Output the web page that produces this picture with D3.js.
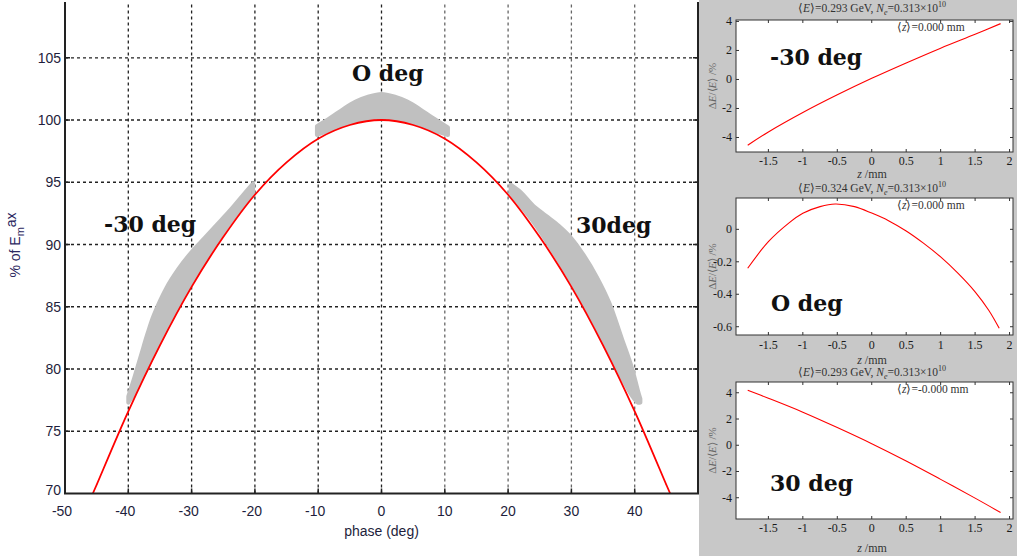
<!DOCTYPE html>
<meta charset="utf-8">
<script src="https://d3js.org/d3.v7.min.js"></script>
<style>
  body { margin: 0; background: #fff; }
  text { font-family: "Liberation Sans", Arial, sans-serif; }
  .serif { font-family: "Liberation Serif", "Times New Roman", serif; }
  .big { font-family: "DejaVu Serif", serif; font-weight: bold; }
</style>
<body>
<div id="chart"></div>
<script>
// main chart data: energy gain vs RF phase
var phaseDeg  = [-45.6, -45, -40, -35, -30, -25, -20, -15, -10, -5, 0, 5, 10, 15, 20, 25, 30, 35, 40, 45, 45.6];
var energyPct = [70, 70.7, 76.6, 81.9, 86.6, 90.6, 94.0, 96.6, 98.5, 99.6, 100, 99.6, 98.5, 96.6, 94.0, 90.6, 86.6, 81.9, 76.6, 70.7, 70];

// bunch footprints (grey bands)
var bandM30Phase = [-40, -39, -38, -37, -36, -34, -32, -30, -28, -26, -24, -22, -20.3];
var bandM30Low   = [77.3, 78.1, 79.1, 80.1, 81.2, 83.2, 85.1, 86.9, 88.6, 90.2, 91.7, 93.0, 94.1];
var bandM30High  = [77.8, 79.4, 81.1, 82.8, 84.3, 86.5, 88.1, 89.4, 90.5, 91.6, 92.7, 93.9, 94.9];

var band0Phase = [-10.2, -8, -6, -4, -2, 0, 2, 4, 6, 8, 10.5];
var band0Low   = [98.8, 99.2, 99.6, 99.9, 100.1, 100.2, 100.1, 99.9, 99.6, 99.2, 98.8];
var band0High  = [99.5, 100.2, 100.9, 101.5, 101.9, 102.1, 101.9, 101.5, 100.9, 100.2, 99.4];

var bandP30Phase = [20.4, 22, 24, 26, 28, 30, 32, 34, 36, 38, 39.5, 40.5, 40.9];
var bandP30Low   = [94.1, 93.1, 91.8, 90.3, 88.7, 87.0, 85.2, 83.3, 81.3, 79.3, 77.9, 77.3, 77.3];
var bandP30High  = [94.8, 94.2, 93.1, 92.3, 91.5, 90.5, 89.1, 87.4, 85.3, 82.4, 80.2, 78.3, 77.6];

var xTicks = [-50, -40, -30, -20, -10, 0, 10, 20, 30, 40];
var yTicks = [70, 75, 80, 85, 90, 95, 100, 105];

// side panels: energy spread along the bunch
var zTicks = [-1.5, -1, -0.5, 0, 0.5, 1, 1.5, 2];
var sub1Z  = [-1.8, -1.5, -1, -0.5, 0, 0.5, 1, 1.5, 1.87];
var sub1dE = [-4.53, -3.62, -2.28, -1.06, 0.08, 1.14, 2.16, 3.12, 3.85];
var sub2Z  = [-1.8, -1.5, -1.2, -1, -0.75, -0.53, -0.25, 0, 0.25, 0.5, 0.75, 1, 1.25, 1.5, 1.7, 1.85];
var sub2dE = [-0.24, -0.076, 0.04, 0.099, 0.14, 0.156, 0.14, 0.1, 0.052, -0.01, -0.085, -0.17, -0.27, -0.385, -0.5, -0.61];
var sub3Z  = [-1.8, -1.5, -1, -0.5, 0, 0.5, 1, 1.5, 1.87];
var sub3dE = [4.19, 3.58, 2.52, 1.35, 0.12, -1.2, -2.6, -4.03, -5.13];

var subEnergy = ["0.293", "0.324", "0.293"];
var subZmean  = ["0.000", "0.000", "-0.000"];
var subNames  = ["-30 deg", "O deg", "30 deg"];

var W = 1017, H = 556;
var svg = d3.select("#chart").append("svg")
    .attr("width", W).attr("height", H);

// ---------- main chart ----------
var x = d3.scaleLinear().domain([-50, 50]).range([65, 698]);
var y = d3.scaleLinear().domain([70, 109.4]).range([493.5, 3]);

var main = svg.append("g");

// grid
main.selectAll(".vgrid").data(xTicks.slice(1)).enter().append("line")
    .attr("x1", d => x(d)).attr("x2", d => x(d))
    .attr("y1", y(70)).attr("y2", y(109.4))
    .attr("stroke", d => d > 0 ? "#666" : "#222")
    .attr("stroke-width", 1.3)
    .attr("stroke-dasharray", "3,3");
main.selectAll(".hgrid").data(yTicks.slice(1)).enter().append("line")
    .attr("x1", x(-50)).attr("x2", x(50))
    .attr("y1", d => y(d)).attr("y2", d => y(d))
    .attr("stroke", "#222")
    .attr("stroke-width", 1.3)
    .attr("stroke-dasharray", "3,3");

// bands
var area = d3.area()
    .x(d => x(d[0])).y0(d => y(d[1])).y1(d => y(d[2]))
    .curve(d3.curveCatmullRom);
function band(ph, lo, hi) {
  var pts = ph.map((p, i) => [p, lo[i], hi[i]]);
  main.append("path").datum(pts)
      .attr("d", area)
      .attr("fill", "#c0c0c0")
      .attr("stroke", "#c0c0c0")
      .attr("stroke-width", 4)
      .attr("stroke-linejoin", "round");
}
band(bandM30Phase, bandM30Low, bandM30High);
band(band0Phase, band0Low, band0High);
band(bandP30Phase, bandP30Low, bandP30High);

// red gain curve
var line = d3.line().x((d, i) => x(phaseDeg[i])).y(d => y(d)).curve(d3.curveCatmullRom);
main.append("path").datum(energyPct)
    .attr("d", line)
    .attr("fill", "none")
    .attr("stroke", "#f00")
    .attr("stroke-width", 1.8);

// axes frame
main.append("line").attr("x1", x(-50)).attr("x2", x(-50)).attr("y1", 2).attr("y2", y(70))
    .attr("stroke", "#222").attr("stroke-width", 2);
main.append("line").attr("x1", x(-50) - 1).attr("x2", x(50) + 1).attr("y1", y(70)).attr("y2", y(70))
    .attr("stroke", "#222").attr("stroke-width", 2);
main.append("line").attr("x1", x(50)).attr("x2", x(50)).attr("y1", 2).attr("y2", y(70))
    .attr("stroke", "#222").attr("stroke-width", 2);

// ticks
main.selectAll(".xt").data(xTicks.slice(1)).enter().append("line")
    .attr("x1", d => x(d)).attr("x2", d => x(d))
    .attr("y1", y(70)).attr("y2", y(70) - 5)
    .attr("stroke", "#222").attr("stroke-width", 1.5);
main.selectAll(".yt").data(yTicks.slice(1)).enter().append("line")
    .attr("x1", x(-50)).attr("x2", x(-50) + 5)
    .attr("y1", d => y(d)).attr("y2", d => y(d))
    .attr("stroke", "#222").attr("stroke-width", 1.5);
main.selectAll(".yt2").data(yTicks.slice(1)).enter().append("line")
    .attr("x1", x(50)).attr("x2", x(50) - 5)
    .attr("y1", d => y(d)).attr("y2", d => y(d))
    .attr("stroke", "#222").attr("stroke-width", 1.5);

// tick labels
main.selectAll(".xl").data(xTicks).enter().append("text")
    .attr("x", d => x(d) - (d < 0 ? 3 : 0)).attr("y", 516)
    .attr("text-anchor", "middle")
    .style("font-size", "14px").attr("fill", "#1e1e3c")
    .text(d => d);
main.selectAll(".yl").data(yTicks).enter().append("text")
    .attr("x", 61).attr("y", d => y(d) + (d === 70 ? 1 : 5))
    .attr("text-anchor", "end")
    .style("font-size", "14px").attr("fill", "#1e1e3c")
    .text(d => d);

main.append("text").attr("x", x(0)).attr("y", 536)
    .attr("text-anchor", "middle")
    .style("font-size", "14px").attr("fill", "#1e1e3c")
    .text("phase (deg)");

var yl = main.append("text")
    .attr("transform", "translate(20,245) rotate(-90)")
    .attr("text-anchor", "middle")
    .style("font-size", "14px").attr("fill", "#2c2860");
yl.append("tspan").text("% of E");
yl.append("tspan").attr("dy", 4).style("font-size", "11px").text("m");
yl.append("tspan").attr("dy", -8).style("font-size", "14px").text("ax");

// big labels
main.append("text").attr("class", "big").attr("x", 352).attr("y", 81)
    .style("font-size", "22px").attr("fill", "#111").text("O deg");
main.append("text").attr("class", "big").attr("x", 104).attr("y", 232)
    .style("font-size", "22px").attr("fill", "#111").text("-30 deg");
main.append("text").attr("class", "big").attr("x", 576).attr("y", 233)
    .style("font-size", "22px").attr("fill", "#111").text("30deg");

// ---------- side panels ----------
svg.append("rect").attr("x", 699).attr("y", 0).attr("width", W - 699).attr("height", H)
    .attr("fill", "#c8c8c8");

var panels = [
  {z: sub1Z, e: sub1dE, top: 20, bottom: 152, dom: [-5.0, 4.1], ticks: [-4, -2, 0, 2, 4],
   title: 8, xl: 165, xlab: 178, lab: [770, 65]},
  {z: sub2Z, e: sub2dE, top: 198, bottom: 335, dom: [-0.651, 0.193], ticks: [-0.6, -0.4, -0.2, 0],
   title: 188, xl: 349, xlab: 364, lab: [771, 311]},
  {z: sub3Z, e: sub3dE, top: 382, bottom: 519, dom: [-5.62, 4.82], ticks: [-4, -2, 0, 2, 4],
   title: 372, xl: 532, xlab: 552, lab: [770, 491]}
];

var zx = d3.scaleLinear().domain([-1.97, 2.05]).range([736, 1013]);

panels.forEach(function(p, k) {
  var g = svg.append("g");
  var ys = d3.scaleLinear().domain(p.dom).range([p.bottom, p.top]);

  g.append("rect").attr("x", zx.range()[0]).attr("y", p.top)
      .attr("width", zx.range()[1] - zx.range()[0]).attr("height", p.bottom - p.top)
      .attr("fill", "#fff").attr("stroke", "#333").attr("stroke-width", 1);

  // inward ticks on all sides
  zTicks.forEach(function(t) {
    g.append("line").attr("x1", zx(t)).attr("x2", zx(t)).attr("y1", p.bottom).attr("y2", p.bottom - 3)
        .attr("stroke", "#333");
    g.append("line").attr("x1", zx(t)).attr("x2", zx(t)).attr("y1", p.top).attr("y2", p.top + 3)
        .attr("stroke", "#333");
  });
  p.ticks.forEach(function(t) {
    g.append("line").attr("x1", 736).attr("x2", 739).attr("y1", ys(t)).attr("y2", ys(t))
        .attr("stroke", "#333");
    g.append("line").attr("x1", 1013).attr("x2", 1010).attr("y1", ys(t)).attr("y2", ys(t))
        .attr("stroke", "#333");
  });

  g.selectAll(".zl").data(zTicks).enter().append("text")
      .attr("class", "serif")
      .attr("x", d => zx(d)).attr("y", p.xl)
      .attr("text-anchor", "middle")
      .style("font-size", "12px").attr("fill", "#1a1a1a")
      .text(d => d);
  g.selectAll(".el").data(p.ticks).enter().append("text")
      .attr("class", "serif")
      .attr("x", 732).attr("y", d => ys(d) + 4)
      .attr("text-anchor", "end")
      .style("font-size", "12px").attr("fill", "#1a1a1a")
      .text(d => d);

  // x label
  var xl = g.append("text").attr("class", "serif")
      .attr("x", 872).attr("y", p.xlab).attr("text-anchor", "middle")
      .style("font-size", "12px").attr("fill", "#333");
  xl.append("tspan").style("font-style", "italic").text("z");
  xl.append("tspan").text(" /mm");

  // y label
  var yl2 = g.append("text").attr("class", "serif")
      .attr("transform", "translate(716," + ((p.top + p.bottom) / 2) + ") rotate(-90)")
      .attr("text-anchor", "middle")
      .style("font-size", "11px").attr("fill", "#666");
  yl2.append("tspan").text("Δ");
  yl2.append("tspan").style("font-style", "italic").text("E");
  yl2.append("tspan").text("/⟨");
  yl2.append("tspan").style("font-style", "italic").text("E");
  yl2.append("tspan").text("⟩ /%");

  // title
  var tt = g.append("text").attr("class", "serif")
      .attr("x", 872).attr("y", p.title + 4).attr("text-anchor", "middle")
      .style("font-size", "11.5px").attr("fill", "#333");
  tt.append("tspan").text("⟨");
  tt.append("tspan").style("font-style", "italic").text("E");
  tt.append("tspan").text("⟩=" + subEnergy[k] + " GeV, ");
  tt.append("tspan").style("font-style", "italic").text("N");
  tt.append("tspan").attr("dy", 3).style("font-size", "8px").style("font-style", "italic").text("e");
  tt.append("tspan").attr("dy", -3).text("=0.313×10");
  tt.append("tspan").attr("dy", -5).style("font-size", "8px").text("10");

  // <z> annotation
  var za = g.append("text").attr("class", "serif")
      .attr("x", 897).attr("y", p.top + 11)
      .style("font-size", "11.5px").attr("fill", "#333");
  za.append("tspan").text("⟨");
  za.append("tspan").style("font-style", "italic").text("z");
  za.append("tspan").text("⟩=" + subZmean[k] + " mm");

  // curve
  var ln = d3.line().x((d, i) => zx(p.z[i])).y(d => ys(d)).curve(d3.curveCatmullRom);
  g.append("path").datum(p.e).attr("d", ln)
      .attr("fill", "none").attr("stroke", "#f00").attr("stroke-width", 1.1);

  g.append("text").attr("class", "big").attr("x", p.lab[0]).attr("y", p.lab[1])
      .style("font-size", "22px").attr("fill", "#111").text(subNames[k]);
});
</script>
</body>
</html>
